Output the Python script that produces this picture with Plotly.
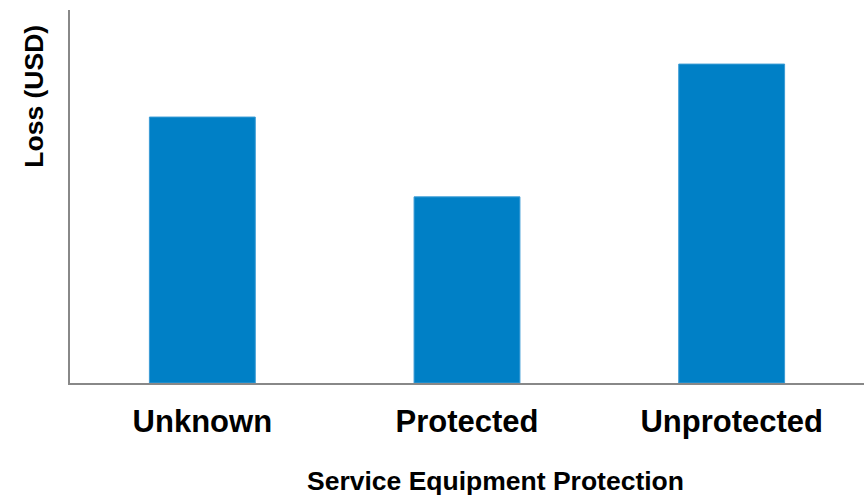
import plotly.graph_objects as go

categories = ["Unknown", "Protected", "Unprotected"]
loss_values = [71.3, 49.9, 85.5]

fig = go.Figure(go.Bar(
    x=categories, y=loss_values,
    marker=dict(color="#0080C6", line=dict(width=1, color="#3A9BD5")),
    width=0.4,
))

fig.update_layout(
    width=867, height=496,
    margin=dict(l=70, r=3, t=10, b=113),
    paper_bgcolor="white", plot_bgcolor="rgba(0,0,0,0)",
    font=dict(family="Liberation Sans, Arial, sans-serif", color="black"),
    showlegend=False,
    annotations=[
        dict(text="Service Equipment Protection", xref="paper", yref="paper",
             x=0.536, y=-0.263, xanchor="center", yanchor="middle", showarrow=False,
             font=dict(size=26.5, weight="bold")),
        dict(text="Loss (USD)", xref="paper", yref="paper", textangle=-90,
             x=-0.0455, y=0.77, xanchor="center", yanchor="middle", showarrow=False,
             font=dict(size=26.5, weight="bold")),
    ],
)
fig.update_xaxes(
    showline=True, linecolor="#888888", linewidth=2,
    showgrid=False, ticks="", zeroline=False,
    tickfont=dict(size=31, weight="bold"), ticklabelstandoff=10,
)
fig.update_yaxes(
    range=[0, 100], showline=True, linecolor="#888888", linewidth=2,
    showgrid=False, showticklabels=False, ticks="", zeroline=False,
)

fig.write_html("out.html")
